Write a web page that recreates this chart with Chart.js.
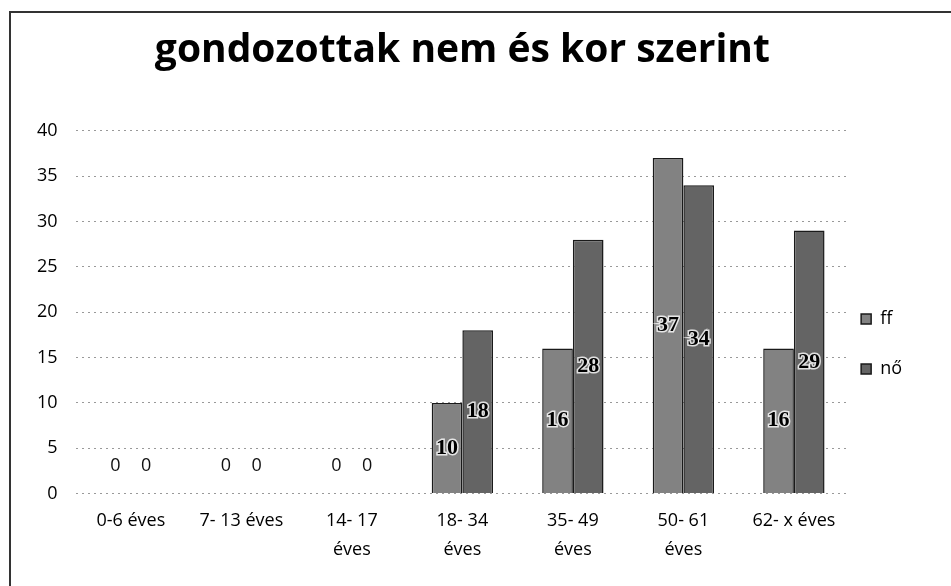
<!DOCTYPE html>
<html>
<head>
<meta charset="utf-8">
<script src="https://cdn.jsdelivr.net/npm/chart.js@4.4.0/dist/chart.umd.min.js"></script>
<style>
  html, body { margin: 0; padding: 0; background: #fff; overflow: hidden; }
  #wrap {
    position: absolute; left: 9px; top: 11px; width: 942px; height: 575px;
    border-left: 2px solid #333; border-top: 2px solid #333;
  }
  canvas { display: block; }
</style>
</head>
<body>
<div id="wrap"><canvas id="chart" width="940" height="573"></canvas></div>
<script>
const categories = ['0-6 éves', '7- 13 éves', ['14- 17', 'éves'], ['18- 34', 'éves'], ['35- 49', 'éves'], ['50- 61', 'éves'], '62- x éves']
const ffValues = [0, 0, 0, 10, 16, 37, 16]
const noValues = [0, 0, 0, 18, 28, 34, 29]
const yTicks = [0, 5, 10, 15, 20, 25, 30, 35, 40]

const fontFamily = '"Open Sans", "Liberation Sans", sans-serif'

// címkék a oszlopok közepére, 0 értéknél kicsit a tengely fölé
const barLabels = {
    id: 'barLabels',
    afterDatasetsDraw(chart) {
        const ctx = chart.ctx
        ctx.save()
        ctx.textAlign = 'center'
        ctx.textBaseline = 'middle'
        chart.data.datasets.forEach((ds, i) => {
            chart.getDatasetMeta(i).data.forEach((bar, j) => {
                const v = ds.data[j]
                if (v === 0) {
                    ctx.font = '18px ' + fontFamily
                    ctx.fillStyle = '#111'
                    ctx.fillText('0', bar.x, bar.y - 28)
                } else {
                    ctx.font = 'bold 22px "Liberation Serif", serif'
                    ctx.lineWidth = 3
                    ctx.strokeStyle = 'rgba(255,255,255,0.8)'
                    const y = (bar.y + bar.base) / 2
                    ctx.strokeText(String(v), bar.x, y)
                    ctx.fillStyle = '#000'
                    ctx.fillText(String(v), bar.x, y)
                }
            })
        })
        ctx.restore()
    }
}

// a jelmagyarázat kicsit balra és lejjebb
const legendShift = {
    id: 'legendShift',
    afterLayout(chart) {
        const lg = chart.legend
        lg.left -= 20; lg.right -= 20
        lg.top += 51; lg.bottom += 51
    }
}

new Chart(document.getElementById('chart').getContext('2d'), {
    type: 'bar',
    data: {
        labels: categories,
        datasets: [{
            label: 'ff',
            data: ffValues,
            backgroundColor: '#828282',
            borderColor: '#1a1a1a',
            borderWidth: 1.5
        }, {
            label: 'nő',
            data: noValues,
            backgroundColor: '#646464',
            borderColor: '#1a1a1a',
            borderWidth: 1.5
        }]
    },
    options: {
        responsive: false,
        animation: false,
        layout: { padding: { left: 8, right: 19, top: 4, bottom: 17 } },
        datasets: {
            bar: { categoryPercentage: 0.555, barPercentage: 1 }
        },
        plugins: {
            title: {
                display: true,
                fullSize: false,
                text: 'gondozottak nem és kor szerint',
                color: '#000',
                font: { family: fontFamily, size: 39, weight: 'bold' },
                padding: { top: 10, bottom: 57 }
            },
            legend: {
                position: 'right',
                labels: {
                    color: '#000',
                    boxWidth: 10,
                    boxHeight: 10,
                    padding: 32,
                    font: { family: fontFamily, size: 18 }
                }
            },
            tooltip: { enabled: false }
        },
        scales: {
            x: {
                grid: { display: false },
                border: { display: false },
                ticks: {
                    color: '#000',
                    maxRotation: 0,
                    autoSkip: false,
                    padding: 4,
                    font: { family: fontFamily, size: 18, lineHeight: 1.65 }
                }
            },
            y: {
                min: 0,
                max: 40,
                afterBuildTicks: axis => { axis.ticks = yTicks.map(v => ({ value: v })) },
                grid: { color: '#999', drawTicks: false },
                border: { display: false, dash: [2, 4] },
                ticks: {
                    color: '#000',
                    padding: 18,
                    font: { family: fontFamily, size: 18 }
                }
            }
        }
    },
    plugins: [barLabels, legendShift]
})
</script>
</body>
</html>
